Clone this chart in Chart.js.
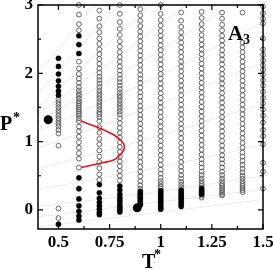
<!DOCTYPE html>
<html>
<head>
<meta charset="utf-8">
<script src="https://cdn.jsdelivr.net/npm/chart.js@4"></script>
<style>
  html, body { margin: 0; padding: 0; background: #fff; }
  #wrap { width: 273px; height: 270px; }
</style>
</head>
<body>
<div id="wrap"><canvas id="chart"></canvas></div>
<script>
// temperatures of the simulated columns
const colT = [0.5, 0.6, 0.7, 0.8, 0.9, 1.0, 1.1, 1.2, 1.3, 1.4, 1.5];

// open circles (P* values) per column
const open05 = [1.62, 1.58, 1.54, 1.50, 1.46, 1.42, 1.38, 1.34, 1.30, 1.26, 1.22, 1.17, 1.12, 0.94, 0.02, -0.12];
const open06 = [3.0, 2.86, 2.72, 2.63, 2.17, 2.07, 1.99, 1.92, 1.86, 1.80, 1.75, 1.71, 1.67, 1.63, 1.59, 1.56, 1.53, 1.50, 1.47, 1.44, 1.41, 1.38, 1.34, 1.30, 1.22, 1.15, 1.07, 0.99, 0.91, 0.83, 0.75, 0.62];
const open07 = [2.92, 2.80, 2.69, 2.60, 2.51, 2.43, 2.35, 2.28, 2.21, 2.14, 2.07, 2.01, 1.95, 1.90, 1.85, 1.80, 1.75, 1.71, 1.67, 1.63, 1.59, 1.55, 1.51, 1.47, 1.43, 1.40, 1.36, 1.30, 1.21, 1.13, 1.04, 0.96, 0.87, 0.78, 0.70, 0.61, 0.52, 0.44];
const open08 = [3.0, 2.87, 2.75, 2.65, 2.56, 2.47, 2.39, 2.31, 2.24, 2.17, 2.10, 2.04, 1.98, 1.92, 1.87, 1.82, 1.77, 1.72, 1.68, 1.64, 1.60, 1.56, 1.52, 1.48, 1.44, 1.40, 1.34, 1.27, 1.20, 1.13, 1.06, 0.99, 0.92, 0.85, 0.78, 0.71, 0.64, 0.57, 0.50, 0.43];
const open09 = [2.94, 2.85, 2.77, 2.69, 2.61, 2.54, 2.47, 2.40, 2.33, 2.26, 2.19, 2.12, 2.05, 1.98, 1.92, 1.86, 1.79, 1.72, 1.66, 1.59, 1.52, 1.46, 1.39, 1.33, 1.26, 1.19, 1.12, 1.05, 0.98, 0.91, 0.84, 0.77, 0.70, 0.63, 0.56, 0.49, 0.42, 0.36, 0.31];
const open10 = [3.0, 2.87, 2.78, 2.70, 2.62, 2.55, 2.48, 2.41, 2.34, 2.27, 2.20, 2.13, 2.06, 1.99, 1.92, 1.85, 1.78, 1.71, 1.64, 1.57, 1.50, 1.43, 1.36, 1.29, 1.22, 1.15, 1.08, 1.01, 0.94, 0.87, 0.80, 0.73, 0.66, 0.59, 0.53, 0.47, 0.42, 0.38, 0.34, 0.31];
const open11 = [2.89, 2.77, 2.68, 2.60, 2.52, 2.45, 2.38, 2.31, 2.24, 2.17, 2.10, 2.03, 1.96, 1.89, 1.82, 1.75, 1.68, 1.61, 1.54, 1.47, 1.40, 1.33, 1.26, 1.19, 1.12, 1.05, 0.98, 0.91, 0.84, 0.77, 0.70, 0.63, 0.57, 0.51, 0.46, 0.41, 0.37, 0.33];
const open12 = [2.90, 2.81, 2.72, 2.64, 2.56, 2.49, 2.42, 2.35, 2.28, 2.21, 2.14, 2.07, 2.00, 1.93, 1.86, 1.79, 1.72, 1.65, 1.58, 1.51, 1.44, 1.37, 1.30, 1.23, 1.16, 1.09, 1.02, 0.95, 0.88, 0.81, 0.74, 0.68, 0.62, 0.56, 0.51, 0.46, 0.42, 0.38, 0.35, 0.32, 0.29, 0.26, 0.24, 0.21, 0.18];
const open13 = [2.89, 2.80, 2.71, 2.63, 2.55, 2.48, 2.41, 2.34, 2.27, 2.20, 2.13, 2.06, 1.99, 1.92, 1.85, 1.78, 1.71, 1.64, 1.57, 1.50, 1.43, 1.36, 1.29, 1.22, 1.15, 1.08, 1.01, 0.94, 0.87, 0.80, 0.74, 0.68, 0.62, 0.56, 0.51, 0.46, 0.42, 0.38, 0.35, 0.32, 0.29, 0.26, 0.23, 0.21];
const open14 = [2.89, 2.45, 2.38, 2.31, 2.24, 2.17, 2.10, 2.03, 1.96, 1.89, 1.82, 1.75, 1.68, 1.61, 1.54, 1.47, 1.40, 1.33, 1.26, 1.19, 1.12, 1.05, 0.98, 0.91, 0.84, 0.78, 0.72, 0.66, 0.60, 0.55, 0.50, 0.46, 0.42, 0.38, 0.35, 0.32, 0.29, 0.26];
const open15 = [2.98, 2.88, 2.80, 2.73, 2.51, 2.35, 2.27, 2.19, 2.12, 2.05, 1.98, 1.90, 1.82, 1.73, 1.64, 1.56, 1.47, 1.38, 1.28, 1.17, 1.08, 0.96, 0.69, 0.56, 0.31];

// filled circles (P* values) per column
const filled05 = [2.22, 2.10, 1.99, 1.89, 1.81, 1.74, 1.68, -0.21];
const filled06 = [2.55, 2.42, 2.29, 0.47, 0.31, 0.16, 0.06, -0.02, -0.09, -0.15];
const filled07 = [0.37, 0.25, 0.17, 0.11, 0.06, 0.01, -0.04, -0.07];
const filled08 = [0.35, 0.29, 0.23, 0.18, 0.14, 0.10, 0.06, 0.03, 0.0, -0.03];
const filled09 = [0.27, 0.24, 0.21, 0.18, 0.15, 0.12, 0.09, 0.07];
const filled10 = [0.28, 0.25, 0.22, 0.19, 0.16, 0.13, 0.10, 0.07, 0.04, 0.01];
const filled11 = [0.29, 0.26, 0.23, 0.20, 0.17, 0.14, 0.11, 0.08, 0.05];
const filled12 = [0.31, 0.27, 0.23];

const openP = [open05, open06, open07, open08, open09, open10, open11, open12, open13, open14, open15];
const filledP = [filled05, filled06, filled07, filled08, filled09, filled10, filled11, filled12, [], [], []];

// two large filled symbols
const bigT = [0.45, 0.885];
const bigP = [1.32, 0.03];

// red boundary curve
const redT = [0.61, 0.70, 0.77, 0.80, 0.82, 0.82, 0.80, 0.77, 0.70, 0.61];
const redP = [0.62, 0.68, 0.73, 0.80, 0.88, 0.96, 1.03, 1.10, 1.20, 1.30];

// faint grey isochores, P* at isoT
const isoT = [0.4, 0.95, 1.5];
const isochores = [
  [-0.25, -0.05, 0.15], [-0.1, 0.1, 0.3], [0.05, 0.25, 0.5], [0.3, 0.6, 0.95],
  [0.6, 1.05, 1.55], [0.9, 1.5, 2.15], [1.15, 1.9, 2.75], [1.3, 2.25, 3.3],
  [1.4, 2.6, 3.9], [1.5, 3.0, 4.5], [1.7, 3.5, 5.2], [2.0, 4.0, 6.0]
];

// axis ticks
const xMajor = [0.5, 0.75, 1, 1.25, 1.5];
const xMinor = [0.625, 0.875, 1.125, 1.375];
const yMajor = [0, 1, 2, 3];
const yMinor = [0.5, 1.5, 2.5];

const serif = '"Liberation Serif", "Times New Roman", serif';

const openPts = [];
colT.forEach((t, i) => openP[i].forEach(p => openPts.push({ x: t, y: p })));
const filledPts = [];
colT.forEach((t, i) => filledP[i].forEach(p => filledPts.push({ x: t, y: p })));

const datasets = [
  {
    data: redT.map((t, i) => ({ x: t, y: redP[i] })),
    showLine: true, borderColor: "#e8141c", borderWidth: 1.6,
    pointRadius: 0, tension: 0.3, fill: false,
  },
  {
    data: bigT.map((t, i) => ({ x: t, y: bigP[i] })),
    backgroundColor: "#000", borderColor: "#000", pointRadius: 4.5, borderWidth: 0,
  },
  {
    data: filledPts,
    backgroundColor: "#000", borderColor: "#000", pointRadius: 2.6, borderWidth: 0.4,
  },
  {
    data: openPts,
    backgroundColor: "rgba(0,0,0,0)", borderColor: "#555", pointRadius: 2.4, borderWidth: 0.9,
    clip: false,
  },
];
isochores.forEach(row => {
  datasets.push({
    data: isoT.map((t, i) => ({ x: t, y: row[i] })),
    showLine: true, borderColor: "#e4e4e4", borderWidth: 0.8,
    pointRadius: 0, tension: 0.35, fill: false,
  });
});

const framePlugin = {
  id: "frame",
  afterDraw(chart) {
    const { ctx, chartArea: a, scales } = chart;
    const xs = scales.x, ys = scales.y;
    ctx.save();
    ctx.strokeStyle = "#000";
    ctx.lineWidth = 1.5;
    ctx.strokeRect(a.left, a.top, a.right - a.left, a.bottom - a.top);
    ctx.lineWidth = 1.2;
    ctx.beginPath();
    const xt = (v, len) => {
      const px = xs.getPixelForValue(v);
      ctx.moveTo(px, a.bottom); ctx.lineTo(px, a.bottom - len);
      ctx.moveTo(px, a.top); ctx.lineTo(px, a.top + len);
    };
    const yt = (v, len) => {
      const py = ys.getPixelForValue(v);
      ctx.moveTo(a.left, py); ctx.lineTo(a.left + len, py);
      ctx.moveTo(a.right, py); ctx.lineTo(a.right - len, py);
    };
    xMajor.forEach(v => xt(v, 5));
    xMinor.forEach(v => xt(v, 3));
    yMajor.forEach(v => yt(v, 5));
    yMinor.forEach(v => yt(v, 3));
    ctx.stroke();

    ctx.fillStyle = "#000";
    ctx.textBaseline = "alphabetic";
    ctx.textAlign = "left";
    ctx.font = "bold 20px " + serif;
    ctx.fillText("P", 0, 130);
    ctx.fillText("T", 142, 268);
    ctx.font = "bold 21px " + serif;
    ctx.fillText("A", 228, 40);
    ctx.font = "bold 14px " + serif;
    ctx.fillText("*", 13, 122);
    ctx.fillText("*", 154, 259);
    ctx.fillText("3", 243, 44);
    ctx.restore();
  },
};

const tickFont = { family: serif, weight: "bold", size: 17 };

new Chart(document.getElementById("chart"), {
  type: "scatter",
  data: { datasets },
  options: {
    responsive: true,
    maintainAspectRatio: false,
    animation: false,
    layout: { padding: { top: 5, right: 10, left: 0, bottom: 0 } },
    plugins: { legend: { display: false }, tooltip: { enabled: false } },
    scales: {
      x: {
        min: 0.4, max: 1.5,
        grid: { display: false, drawTicks: false },
        border: { display: false },
        afterBuildTicks: s => { s.ticks = xMajor.map(v => ({ value: v })); },
        afterFit: s => { s.height = 41; s.paddingLeft = 0; s.paddingRight = 0; },
        ticks: { font: tickFont, color: "#000", padding: 3, maxRotation: 0,
          callback: v => String(v) },
      },
      y: {
        min: -0.28, max: 3,
        grid: { display: false, drawTicks: false },
        border: { display: false },
        afterBuildTicks: s => { s.ticks = yMajor.map(v => ({ value: v })); },
        afterFit: s => { s.width = 38; s.paddingTop = 0; s.paddingBottom = 0; },
        ticks: { font: tickFont, color: "#000", padding: 5,
          callback: v => String(v) },
      },
    },
  },
  plugins: [framePlugin],
});
</script>
</body>
</html>
